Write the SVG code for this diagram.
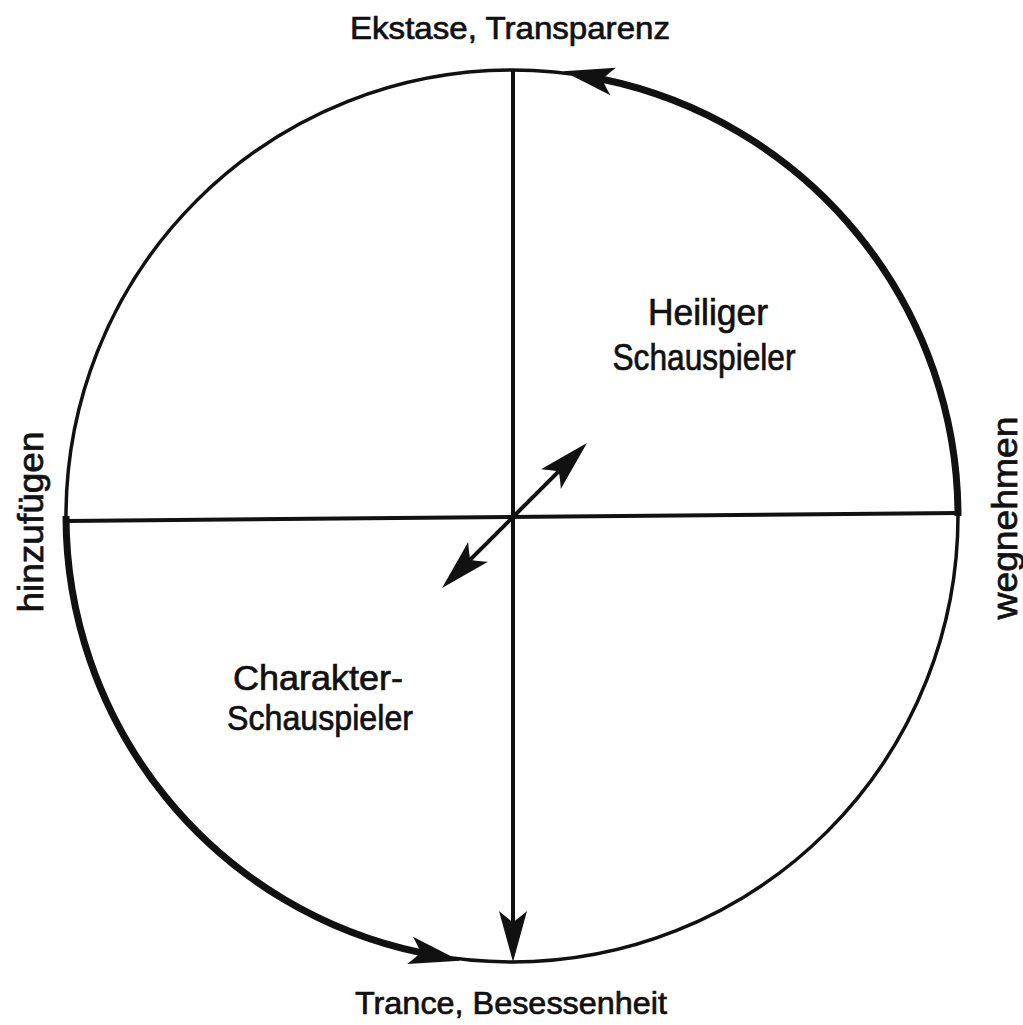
<svg xmlns="http://www.w3.org/2000/svg" width="1023" height="1025" viewBox="0 0 1023 1025">
  <style>
    .lbl { font-family: "Liberation Sans", "DejaVu Sans", sans-serif; fill: #111; stroke: #111; stroke-width: 0.7; }
    .thin { fill: none; stroke: #111; stroke-width: 3.5; }
    .thick { fill: none; stroke: #111; stroke-width: 7; }
    .axis { fill: none; stroke: #111; stroke-width: 4; }
  </style>
  <defs>
    <marker id="arr" viewBox="-52 -16 54 32" refX="-40" refY="0" markerWidth="54" markerHeight="32" markerUnits="userSpaceOnUse" orient="auto-start-reverse" overflow="visible">
      <path d="M0,0 L-51,-14 Q-44,-6 -40,0 Q-44,6 -51,14 Z" fill="#111"/>
    </marker>
  </defs>
  <rect width="1023" height="1025" fill="#fff"/>

  <g id="circle">
    <circle class="thin" cx="512" cy="516" r="446"/>
  </g>

  <g id="connectors">
    <path id="arc-wegnehmen" class="thick" d="M958,516 A446,446 0 0 0 602.4,79.3" marker-end="url(#arr)"/>
    <path id="arc-hinzufuegen" class="thick" d="M66,516 A446,446 0 0 0 420.8,952.6" marker-end="url(#arr)"/>
    <path id="axis-h" class="axis" d="M66,521 L958,513"/>
    <path id="axis-v" class="axis" d="M513,69 L513,922" marker-end="url(#arr)"/>
    <path id="diag" class="axis" d="M470.3,559.7 L558.7,471.3" marker-start="url(#arr)" marker-end="url(#arr)"/>
  </g>

  <g id="top-label">
    <text class="lbl" x="510" y="39" font-size="31" text-anchor="middle" textLength="320" lengthAdjust="spacingAndGlyphs">Ekstase, Transparenz</text>
  </g>
  <g id="bottom-label">
    <text class="lbl" x="511" y="1014" font-size="31" text-anchor="middle" textLength="312" lengthAdjust="spacingAndGlyphs">Trance, Besessenheit</text>
  </g>
  <g id="heiliger">
    <text class="lbl" x="708" y="325" font-size="36" text-anchor="middle" textLength="120" lengthAdjust="spacingAndGlyphs">Heiliger</text>
    <text class="lbl" x="704" y="370" font-size="36" text-anchor="middle" textLength="183" lengthAdjust="spacingAndGlyphs">Schauspieler</text>
  </g>
  <g id="charakter">
    <text class="lbl" x="318" y="690" font-size="35" text-anchor="middle" textLength="170" lengthAdjust="spacingAndGlyphs">Charakter-</text>
    <text class="lbl" x="320" y="730" font-size="35" text-anchor="middle" textLength="186" lengthAdjust="spacingAndGlyphs">Schauspieler</text>
  </g>
  <g id="left-label">
    <text class="lbl" transform="translate(43,522) rotate(-90)" font-size="35" text-anchor="middle" textLength="181" lengthAdjust="spacingAndGlyphs">hinzufügen</text>
  </g>
  <g id="right-label">
    <text class="lbl" transform="translate(1017,518) rotate(-90)" font-size="35" text-anchor="middle" textLength="203" lengthAdjust="spacingAndGlyphs">wegnehmen</text>
  </g>
</svg>
